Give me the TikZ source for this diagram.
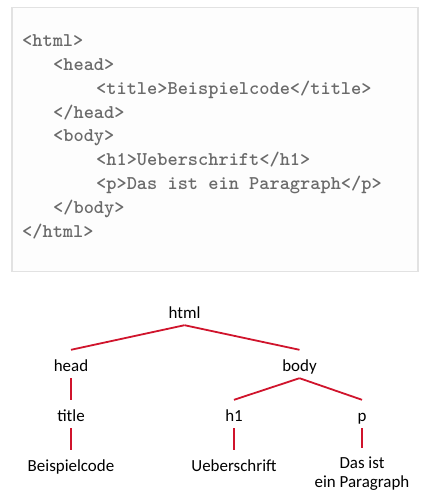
\documentclass[tikz,border=0pt]{standalone}
\usepackage{fontspec}
\newfontfamily\treefont{Carlito}
\definecolor{codegray}{HTML}{6A6A6A}
\definecolor{boxline}{HTML}{E2E2E2}
\definecolor{boxfill}{HTML}{FDFDFD}
\definecolor{treered}{HTML}{D0142C}
\tikzset{
  code/.style={anchor=base west, inner sep=0pt, text=codegray,
    font=\fontsize{19.5}{22}\selectfont\ttfamily\bfseries},
  tag/.style={anchor=base, inner xsep=2pt, inner ysep=4bp, text height=17bp, text depth=3bp,
    font=\fontsize{17}{19.5}\selectfont\treefont},
  edge/.style={draw=treered, line width=1.8bp}
}
\begin{document}
\begin{tikzpicture}[x=1bp,y=-1bp]
\useasboundingbox (0,0) rectangle (430,499);
% source code box
\draw [boxline, fill=boxfill, line width=1.5bp] (12,7.5) rectangle (418,271.5);
\node [code] (htmlopen) at (22,47) {<html>};
\node [code] (headopen) at (53,70.75) {<head>};
\node [code] (titleline) at (96,94.5) {<title>Beispielcode</title>};
\node [code] (headclose) at (53,118.25) {</head>};
\node [code] (bodyopen) at (53,142) {<body>};
\node [code] (hline) at (96,165.75) {<h1>Ueberschrift</h1>};
\node [code] (pline) at (96,189.5) {<p>Das ist ein Paragraph</p>};
\node [code] (bodyclose) at (53,213.25) {</body>};
\node [code] (htmlclose) at (22,237) {</html>};
% tree
\node [tag] (html) at (184.5,318) {html};
\node [tag] (head) at (71,371) {head};
\node [tag] (body) at (299.5,371) {body};
\node [tag] (title) at (71,421) {title};
\node [tag] (hone) at (234,421) {h1};
\node [tag] (p) at (362,421) {p};
\node [tag] (bsp) at (71,471) {Beispielcode};
\node [tag] (ueb) at (234,471) {Ueberschrift};
\node [tag, anchor=north, align=center, text height=, text depth=, inner ysep=8.5bp] (par) at (362,448) {Das ist\\ein Paragraph};
\draw [edge] (html.south) -- (head.north);
\draw [edge] (html.south) -- (body.north);
\draw [edge] (head.south) -- (title.north);
\draw [edge] (body.south) -- (hone.north);
\draw [edge] (body.south) -- (p.north);
\draw [edge] (title.south) -- (bsp.north);
\draw [edge] (hone.south) -- (ueb.north);
\draw [edge] (p.south) -- (par.north);
\end{tikzpicture}
\end{document}
